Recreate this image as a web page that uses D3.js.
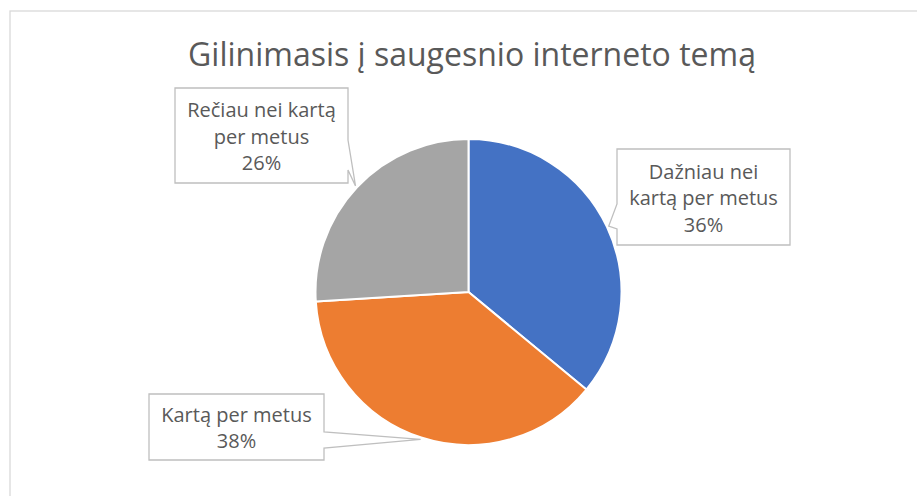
<!DOCTYPE html>
<html>
<head>
<meta charset="utf-8">
<script src="https://cdn.jsdelivr.net/npm/d3@7"></script>
<style>
  html, body { margin: 0; padding: 0; background: #fff; }
  svg { display: block; }
</style>
</head>
<body>
<svg id="chart" width="917" height="496"></svg>
<script>
// ---- data ----
const title = "Gilinimasis į saugesnio interneto temą";
const categories = ["Dažniau nei kartą per metus", "Kartą per metus", "Rečiau nei kartą per metus"];
const values = [36, 38, 26];
const labelLines = [
  ["Dažniau nei", "kartą per metus"],
  ["Kartą per metus"],
  ["Rečiau nei kartą", "per metus"]
];
const colors = ["#4472C4", "#ED7D31", "#A5A5A5"];

// ---- layout ----
const W = 917, H = 496;
const cx = 468.5, cy = 292, R = 153;
// callout boxes: [x, y, w, h, side of pointer, base offset a, base offset b]
const boxes = [
  {x: 617, y: 149, w: 173, h: 96, side: "left",  a: 55, b: 80},
  {x: 149, y: 394, w: 175, h: 66, side: "right", a: 38, b: 54},
  {x: 175, y: 88,  w: 173, h: 95, side: "right", a: 52, b: 82}
];
const textColor = "#595959";
const font = "'Open Sans', 'Noto Sans', sans-serif";

const svg = d3.select("#chart");

// frame
svg.append("rect")
  .attr("x", 10).attr("y", 11)
  .attr("width", W + 20).attr("height", H + 20)
  .attr("fill", "#fff")
  .attr("stroke", "#d9d9d9").attr("stroke-width", 1.3);

// title
svg.append("text")
  .attr("x", 472).attr("y", 66)
  .attr("text-anchor", "middle")
  .attr("font-family", font)
  .attr("font-size", 32)
  .attr("fill", textColor)
  .text(title);

const pie = d3.pie().sort(null).value(d => d);
const arcs = pie(values);
const arc = d3.arc().innerRadius(0).outerRadius(R);
const tipArc = d3.arc().innerRadius(155).outerRadius(155);

const g = svg.append("g").attr("transform", `translate(${cx},${cy})`);
g.selectAll("path.slice")
  .data(arcs)
  .join("path")
  .attr("class", "slice")
  .attr("d", arc)
  .attr("fill", (d, i) => colors[i])
  .attr("stroke", "#fff")
  .attr("stroke-width", 2)
  .attr("stroke-linejoin", "round");

function calloutPath(b, tip) {
  const x0 = b.x, y0 = b.y, x1 = b.x + b.w, y1 = b.y + b.h;
  if (b.side === "right") {
    return `M${x0},${y0}H${x1}V${y0 + b.a}L${tip[0]},${tip[1]}L${x1},${y0 + b.b}V${y1}H${x0}Z`;
  } else {
    return `M${x0},${y0}H${x1}V${y1}H${x0}V${y0 + b.b}L${tip[0]},${tip[1]}L${x0},${y0 + b.a}Z`;
  }
}

arcs.forEach((d, i) => {
  const b = boxes[i];
  const c = tipArc.centroid(d);
  const tip = [cx + c[0], cy + c[1]];
  svg.append("path")
    .attr("d", calloutPath(b, tip))
    .attr("fill", "#fff")
    .attr("stroke", "#bfbfbf")
    .attr("stroke-width", 1.3)
    .attr("stroke-linejoin", "miter");

  const lines = labelLines[i].concat([d3.format(".0%")(d.data / 100)]);
  const n = lines.length;
  const mx = b.x + b.w / 2, my = b.y + b.h / 2;
  const t = svg.append("text")
    .attr("text-anchor", "middle")
    .attr("font-family", font)
    .attr("font-size", 20)
    .attr("fill", textColor);
  lines.forEach((ln, k) => {
    t.append("tspan")
      .attr("x", mx)
      .attr("y", my + (k - (n - 1) / 2) * 26.5 + 8)
      .text(ln);
  });
});
</script>
</body>
</html>
